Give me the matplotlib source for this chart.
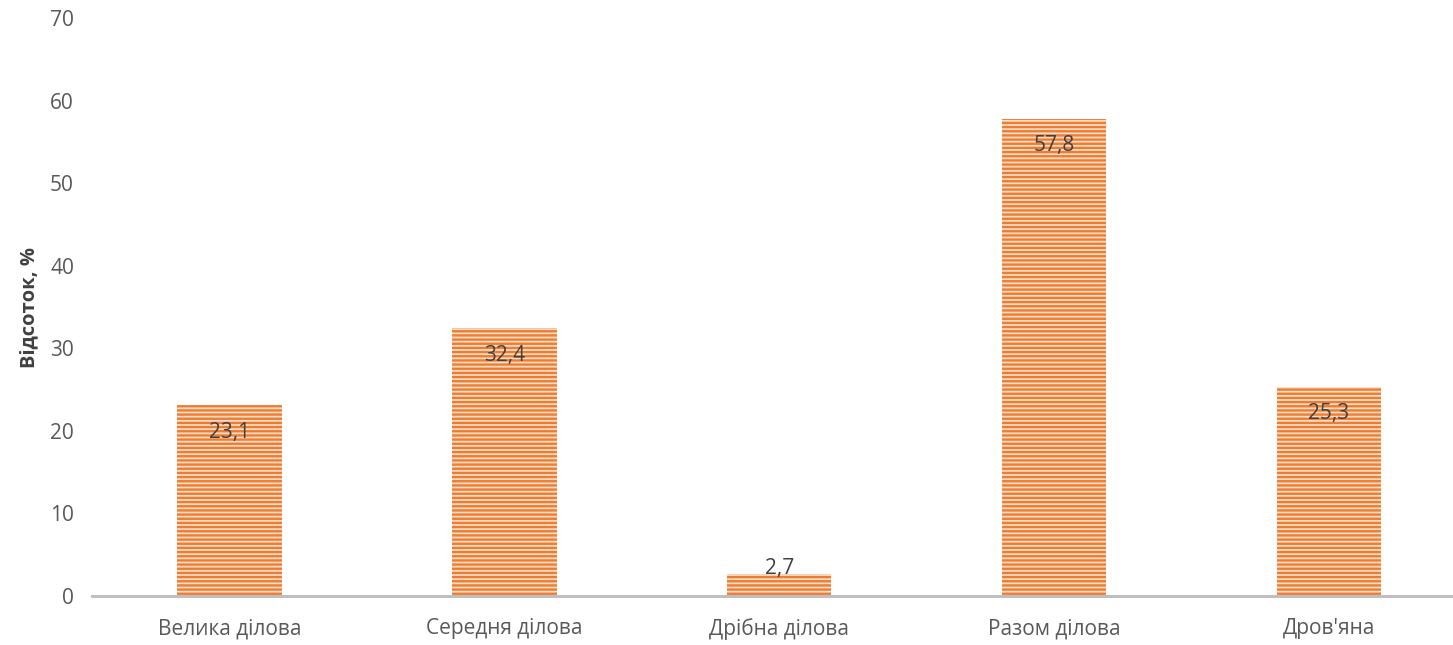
import matplotlib.pyplot as plt

categories = ["Велика ділова", "Середня ділова", "Дрібна ділова", "Разом ділова", "Дров'яна"]
values = [23.1, 32.4, 2.7, 57.8, 25.3]
labels = ["23,1", "32,4", "2,7", "57,8", "25,3"]

plt.rcParams["font.family"] = ["Open Sans", "DejaVu Sans"]
plt.rcParams["hatch.linewidth"] = 1.7

fig = plt.figure(figsize=(14.53, 6.45), dpi=100)
# axes run slightly past the right edge of the figure
ax = fig.add_axes([0.0633, 0.076, 0.946, 0.896])

x = range(len(categories))
ax.bar(x, values, width=0.38, color="#FBDCC6", edgecolor="#ED7D31",
       linewidth=0, hatch="----")

# value labels just under the top of each bar (kept above the baseline for short bars)
for xi, v, lab in zip(x, values, labels):
    ax.text(xi, max(v - 3.25, 3.27), lab, ha="center", va="center",
            fontsize=15, color="#404040")

ax.set_xlim(-0.5, 4.5)
ax.set_ylim(0, 70)
ax.set_yticks(range(0, 71, 10))
ax.set_xticks(list(x))
ax.set_xticklabels(categories)
ax.tick_params(axis="both", length=0, labelsize=15, labelcolor="#595959")
ax.tick_params(axis="x", pad=16)
ax.tick_params(axis="y", pad=13)

for side in ["top", "right", "left"]:
    ax.spines[side].set_visible(False)
ax.spines["bottom"].set_color("#BFBFBF")
ax.spines["bottom"].set_linewidth(2.2)

ax.set_ylabel("Відсоток, %", fontsize=14.5, fontweight="bold", color="#404040", labelpad=8)

fig.savefig("out.png", dpi=100)
